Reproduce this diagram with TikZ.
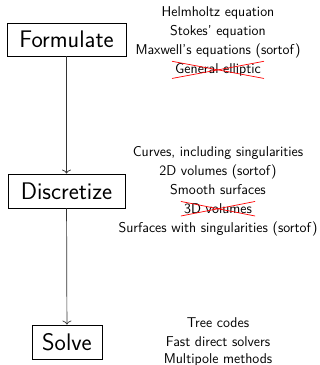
\documentclass[tikz,border=0pt]{standalone}
\usepackage{fontspec}
\usetikzlibrary{arrows.meta}
\begin{document}
\begin{tikzpicture}[x=1pt,y=-1pt,
  bigbox/.style={draw=black, line width=0.8pt, inner sep=0pt, font=\sffamily\fontsize{24}{28}\selectfont},
  item/.style={font=\sffamily\fontsize{14.2}{17}\selectfont, anchor=base, inner xsep=3pt, inner ysep=2pt},
  flow/.style={draw=black!80, line width=0.7pt, -{To[length=4pt,width=9pt]}},
  cross/.style={draw=red, line width=0.7pt}]
\useasboundingbox (0,0) rectangle (320,365);
% boxes
\node[bigbox, minimum width=119pt, minimum height=33pt] (form) at (66.5,39.5) {Formulate};
\node[bigbox, minimum width=117pt, minimum height=34pt] (disc) at (66.5,191) {Discretize};
\node[bigbox, minimum width=70pt, minimum height=34pt] (solve) at (67,342) {Solve};
\draw[flow] (form) -- (disc);
\draw[flow] (disc) -- (solve);
% formulate list
\node[item] (f1) at (218,16.5) {Helmholtz equation};
\node[item] (f2) at (218,35.5) {Stokes' equation};
\node[item] (f3) at (218,54.5) {Maxwell's equations (sortof)};
\node[item] (f4) at (218,73.5) {General elliptic};
\draw[cross] (f4.north west) -- (f4.south east);
\draw[cross] (f4.south west) -- (f4.north east);
% discretize list
\node[item] (d1) at (218,156.5) {Curves, including singularities};
\node[item] (d2) at (218,175.5) {2D volumes (sortof)};
\node[item] (d3) at (218,194.5) {Smooth surfaces};
\node[item] (d4) at (218,213.5) {3D volumes};
\node[item] (d5) at (218,232.5) {Surfaces with singularities (sortof)};
\draw[cross] (d4.north west) -- (d4.south east);
\draw[cross] (d4.south west) -- (d4.north east);
% solve list
\node[item] (s1) at (218,327.5) {Tree codes};
\node[item] (s2) at (218,346) {Fast direct solvers};
\node[item] (s3) at (218,363.5) {Multipole methods};
\end{tikzpicture}
\end{document}
